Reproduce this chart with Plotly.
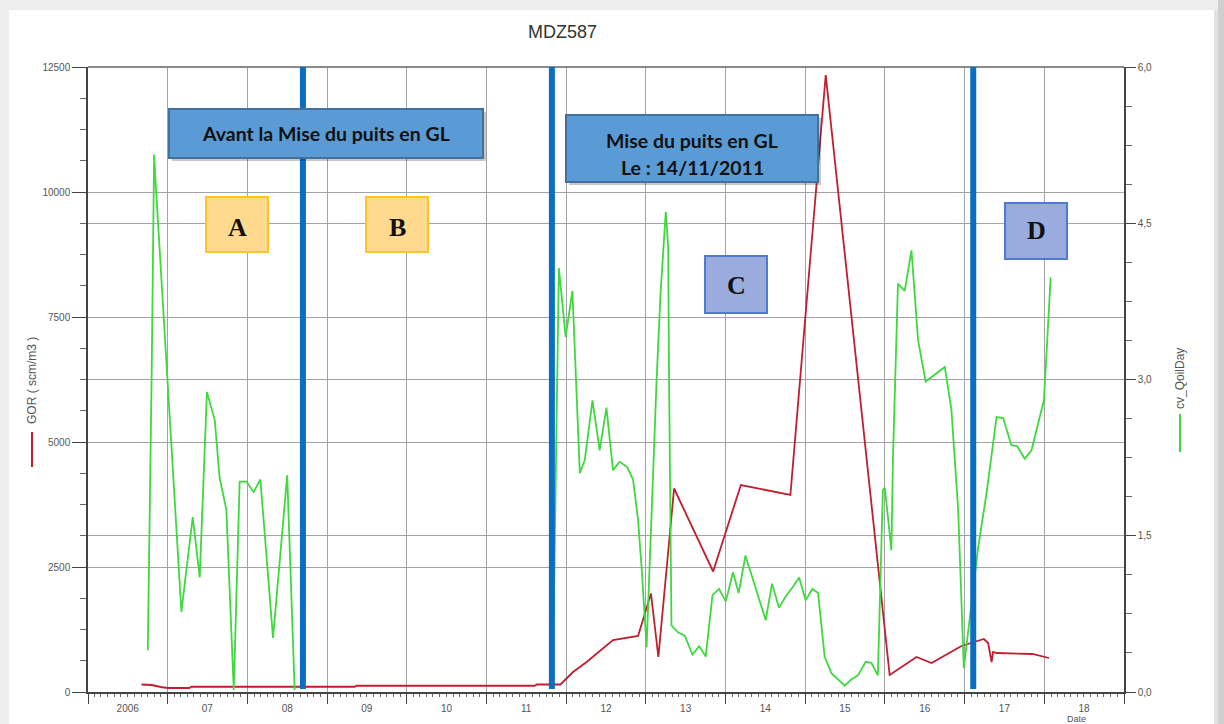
import plotly.graph_objects as go

# ---- data -------------------------------------------------------------
# cv_QoilDay (right axis); None breaks the line where there is no record
qoil_dates = [
    "2006-10-02", "2006-10-13", "2006-10-20", "2006-10-31", "2006-11-05",
    "2007-03-05", "2007-04-26", "2007-05-28", "2007-06-30", "2007-08-05",
    "2007-08-27", "2007-09-27", "2007-10-31", "2007-11-27", "2007-12-28",
    "2008-01-30", "2008-03-01", "2008-04-28", "2008-07-02", "2008-08-05",
    None,
    "2011-11-05", "2011-11-20", "2011-11-29", "2011-12-30", "2012-01-30",
    "2012-03-04", "2012-03-27", "2012-05-01", "2012-06-03", "2012-07-04",
    "2012-08-03", "2012-09-03", "2012-10-07", "2012-11-03", "2012-11-26",
    "2012-12-12", "2013-01-04", "2013-02-19", "2013-03-09", "2013-04-02",
    "2013-04-13", "2013-04-17", "2013-04-28", "2013-05-29", "2013-06-28",
    "2013-08-02", "2013-09-02", "2013-10-02", "2013-11-02", "2013-12-02",
    "2014-01-02", "2014-02-04", "2014-03-02", "2014-04-02", "2014-05-07",
    "2014-07-04", "2014-08-02", "2014-09-03", "2014-10-04", "2014-11-06",
    "2014-12-04", "2015-01-03", "2015-02-03", "2015-03-01", "2015-03-31",
    "2015-05-01", "2015-07-01", "2015-07-31", "2015-08-31", "2015-10-05",
    "2015-10-31", "2015-11-30", "2015-12-23", "2016-01-01", "2016-01-31",
    "2016-02-07", "2016-03-01", "2016-04-01", "2016-05-02", "2016-06-01",
    "2016-07-06", "2016-10-02", "2016-11-01", "2016-12-02", "2016-12-28",
    "2017-03-03", "2017-04-11", "2017-05-27", "2017-06-26", "2017-08-03",
    "2017-08-29", "2017-10-03", "2017-11-03", "2017-12-30", "2018-01-30",
]
qoil_values = [
    0.40, 1.79, 3.09, 5.16, 4.96,
    0.77, 1.68, 1.10, 2.88, 2.61,
    2.06, 1.75, 0.02, 2.02, 2.02,
    1.92, 2.04, 0.52, 2.08, 0.02,
    None,
    0.69, 3.00, 4.07, 3.41, 3.85,
    2.10, 2.23, 2.80, 2.32, 2.73,
    2.13, 2.21, 2.16, 2.04, 1.65,
    1.20, 0.43, 3.00, 3.83, 4.61,
    4.27, 3.00, 0.64, 0.57, 0.54,
    0.36, 0.44, 0.34, 0.93, 0.99,
    0.87, 1.15, 0.95, 1.31, 1.08,
    0.69, 1.04, 0.81, 0.92, 1.01,
    1.10, 0.88, 0.99, 0.95, 0.34,
    0.18, 0.06, 0.12, 0.16, 0.29,
    0.28, 0.16, 1.94, 1.96, 1.36,
    2.23, 3.92, 3.85, 4.24, 3.38,
    2.98, 3.12, 2.71, 1.75, 0.23,
    1.38, 1.91, 2.64, 2.63, 2.37,
    2.36, 2.24, 2.32, 2.80, 3.98,
]

# GOR (left axis, scm/m3)
gor_dates = [
    "2006-09-03", "2006-10-20", "2006-12-01", "2007-01-01", "2007-04-10",
    "2007-04-20", "2009-05-08", "2009-05-15", "2011-08-10", "2011-08-20",
    "2011-12-06", "2012-02-02", "2012-04-04", "2012-08-03", "2012-11-26",
    "2013-01-24", "2013-02-27", "2013-05-10", "2013-11-05", "2014-03-12",
    "2014-10-25", "2015-04-05", "2016-01-23", "2016-05-25", "2016-08-02",
    "2016-12-17", "2017-03-30", "2017-04-18", "2017-04-26", "2017-05-04",
    "2017-05-11", "2017-05-27", "2017-11-07", "2018-01-22",
]
gor_values = [
    150, 140, 100, 80, 80,
    105, 105, 125, 125, 150,
    150, 400, 600, 1040, 1120,
    1970, 700, 4070, 2410, 4140,
    3940, 12340, 340, 700, 580,
    920, 1060, 980, 800, 600,
    800, 780, 760, 680,
]

# phase boundaries (vertical markers)
marker_dates = ["2008-09-12", "2011-10-28", "2017-02-09"]

# axis labels
year_starts = [f"{y}-01-01" for y in range(2006, 2020)]
year_mids = [f"{y}-07-02" for y in range(2006, 2019)]
year_labels = ["2006", "07", "08", "09", "10", "11", "12", "13", "14", "15", "16", "17", "18"]
gor_ticks = [0, 2500, 5000, 7500, 10000, 12500]
qoil_ticks = [0, 1.5, 3.0, 4.5, 6.0]
qoil_ticktext = ["0,0", "1,5", "3,0", "4,5", "6,0"]

# ---- layout helpers ---------------------------------------------------
W, H = 1224, 724
L, R, T, B = 88, 100, 67, 32
PW, PH = W - L - R, H - T - B


def px(x):
    return (x - L) / PW


def py(y):
    return (H - B - y) / PH


AXIS = "#444444"
GRID = "#a3a3a3"
TICKFONT = dict(family="Liberation Sans, Arial", size=10, color="#555555")
GREEN = "#3fd83f"
RED = "#bf1f2e"

fig = go.Figure()

fig.add_trace(go.Scatter(
    x=gor_dates, y=gor_values, mode="lines", name="GOR",
    line=dict(color=RED, width=1.8), yaxis="y", xaxis="x",
))
fig.add_trace(go.Scatter(
    x=qoil_dates, y=qoil_values, mode="lines", name="cv_QoilDay",
    line=dict(color=GREEN, width=1.8), yaxis="y2", xaxis="x",
    connectgaps=False,
))
# carrier for the year-label axis
fig.add_trace(go.Scatter(
    x=[year_mids[0]], y=[0], mode="markers", marker=dict(opacity=0),
    xaxis="x2", yaxis="y", showlegend=False, hoverinfo="skip",
))

shapes = []
annotations = []

# card background with a soft grey frame
shapes.append(dict(type="rect", xref="paper", yref="paper", layer="below",
                   x0=px(9), x1=px(1214), y0=py(10), y1=py(H + 5),
                   fillcolor="white", line=dict(width=0)))
shapes.append(dict(type="rect", xref="paper", yref="paper", layer="below",
                   x0=px(1214), x1=px(1218), y0=py(10), y1=py(H + 5),
                   fillcolor="#e2e2e2", line=dict(width=0)))
shapes.append(dict(type="rect", xref="paper", yref="paper", layer="below",
                   x0=px(1218), x1=px(W + 5), y0=py(0), y1=py(H + 5),
                   fillcolor="#cfcfcf", line=dict(width=0)))

# top border of the plot frame
shapes.append(dict(type="line", xref="paper", yref="paper",
                   x0=0, x1=1, y0=1, y1=1, line=dict(color="#8a8a8a", width=2)))

# vertical phase markers
for d in marker_dates:
    shapes.append(dict(type="line", xref="x", yref="y", x0=d, x1=d,
                       y0=60, y1=12500, line=dict(color="#0a6fc2", width=6),
                       layer="above"))


def box(x0, y0, x1, y1, fill, border, shadow=False):
    if shadow:
        shapes.append(dict(type="rect", xref="paper", yref="paper",
                           x0=px(x0 + 3), x1=px(x1 + 3), y0=py(y1 + 3), y1=py(y0 + 3),
                           fillcolor="rgba(0,0,0,0.22)", line=dict(width=0),
                           layer="above"))
    shapes.append(dict(type="rect", xref="paper", yref="paper",
                       x0=px(x0), x1=px(x1), y0=py(y1), y1=py(y0),
                       fillcolor=fill, line=dict(color=border, width=2),
                       layer="above"))


def label(x, y, text, font):
    annotations.append(dict(xref="paper", yref="paper", x=px(x), y=py(y),
                            text=text, showarrow=False, font=font,
                            xanchor="center", yanchor="middle"))


HEAD = dict(family="Lato, Carlito, sans-serif", size=19.5, color="#111111")
LETTER = dict(family="Liberation Serif, Times New Roman, serif", size=26, color="#111111")

box(169, 109, 483, 158, "#5b9bd5", "#41719c", shadow=True)
label(326, 134, "<b>Avant la Mise du puits en GL</b>", HEAD)

box(566, 115, 818, 182, "#5b9bd5", "#41719c", shadow=True)
label(692, 141, "<b>Mise du puits en GL</b>", HEAD)
label(692, 167, "<b>Le : 14/11/2011</b>", HEAD)

box(206, 197, 268, 252, "#ffd98e", "#ffc428")
label(237, 227, "<b>A</b>", LETTER)
box(366, 197, 428, 252, "#ffd98e", "#ffc428")
label(397, 227, "<b>B</b>", LETTER)
box(705, 256, 767, 313, "#9aabdd", "#4f7bd0")
label(736, 285, "<b>C</b>", LETTER)
box(1005, 203, 1067, 259, "#9aabdd", "#4f7bd0")
label(1036, 231, "<b>D</b>", LETTER)

# title
annotations.append(dict(xref="paper", yref="paper", x=px(562), y=py(32),
                        text="MDZ587", showarrow=False, xanchor="center",
                        yanchor="middle",
                        font=dict(family="Liberation Sans, Arial", size=18,
                                  color="#333333")))

# axis titles with their series swatches
AXFONT = dict(family="Liberation Sans, Arial", size=12, color="#555555")
annotations.append(dict(xref="paper", yref="paper", x=px(32), y=py(381),
                        text="GOR ( scm/m3 )", textangle=-90, showarrow=False,
                        xanchor="center", yanchor="middle", font=AXFONT))
shapes.append(dict(type="line", xref="paper", yref="paper",
                   x0=px(32), x1=px(32), y0=py(432), y1=py(467),
                   line=dict(color=RED, width=2)))
annotations.append(dict(xref="paper", yref="paper", x=px(1180), y=py(379),
                        text="cv_QoilDay", textangle=-90, showarrow=False,
                        xanchor="center", yanchor="middle", font=AXFONT))
shapes.append(dict(type="line", xref="paper", yref="paper",
                   x0=px(1180), x1=px(1180), y0=py(414), y1=py(452),
                   line=dict(color=GREEN, width=2)))
annotations.append(dict(xref="paper", yref="paper", x=px(1076), y=py(719),
                        text="Date", showarrow=False, xanchor="center",
                        yanchor="middle",
                        font=dict(family="Liberation Sans, Arial", size=9,
                                  color="#555555")))

fig.update_layout(
    width=W, height=H,
    margin=dict(l=L, r=R, t=T, b=B, pad=0, autoexpand=False),
    paper_bgcolor="#ededed",
    plot_bgcolor="white",
    showlegend=False,
    shapes=shapes,
    annotations=annotations,
    xaxis=dict(
        type="date", range=["2006-01-01", "2019-01-01"], automargin=False,
        tickmode="array", tickvals=year_starts, showticklabels=False,
        ticks="outside", ticklen=10, tickcolor=AXIS, tickwidth=1,
        showgrid=True, gridcolor=GRID, gridwidth=1,
        showline=True, linecolor=AXIS, linewidth=1.5, zeroline=False,
        minor=dict(dtick="M1", tick0="2006-01-01", ticks="outside",
                   ticklen=3, tickcolor="#666666", showgrid=False),
    ),
    xaxis2=dict(
        type="date", range=["2006-01-01", "2019-01-01"], automargin=False,
        overlaying="x", anchor="y", side="bottom",
        tickmode="array", tickvals=year_mids, ticktext=year_labels,
        ticks="outside", ticklen=7, tickcolor="rgba(0,0,0,0)",
        tickfont=TICKFONT, showgrid=False, showline=False, zeroline=False,
    ),
    yaxis=dict(
        range=[0, 12500], tickmode="array", tickvals=gor_ticks, automargin=False,
        ticktext=[str(v) for v in gor_ticks], tickfont=TICKFONT,
        ticks="outside", ticklen=14, tickcolor=AXIS,
        showgrid=True, gridcolor=GRID, gridwidth=1,
        showline=True, linecolor=AXIS, linewidth=1.5, zeroline=False,
        minor=dict(dtick=625, tick0=0, ticks="outside", ticklen=6,
                   tickcolor="#666666", showgrid=False),
    ),
    yaxis2=dict(
        range=[0, 6], overlaying="y", side="right", anchor="x", automargin=False,
        tickmode="array", tickvals=qoil_ticks, ticktext=qoil_ticktext,
        tickfont=TICKFONT, ticks="outside", ticklen=10, tickcolor=AXIS,
        showgrid=True, gridcolor=GRID, gridwidth=1,
        showline=True, linecolor=AXIS, linewidth=1.5, zeroline=False,
        minor=dict(dtick=0.375, tick0=0, ticks="outside", ticklen=6,
                   tickcolor="#666666", showgrid=False),
    ),
)

fig.write_html("out.html")
